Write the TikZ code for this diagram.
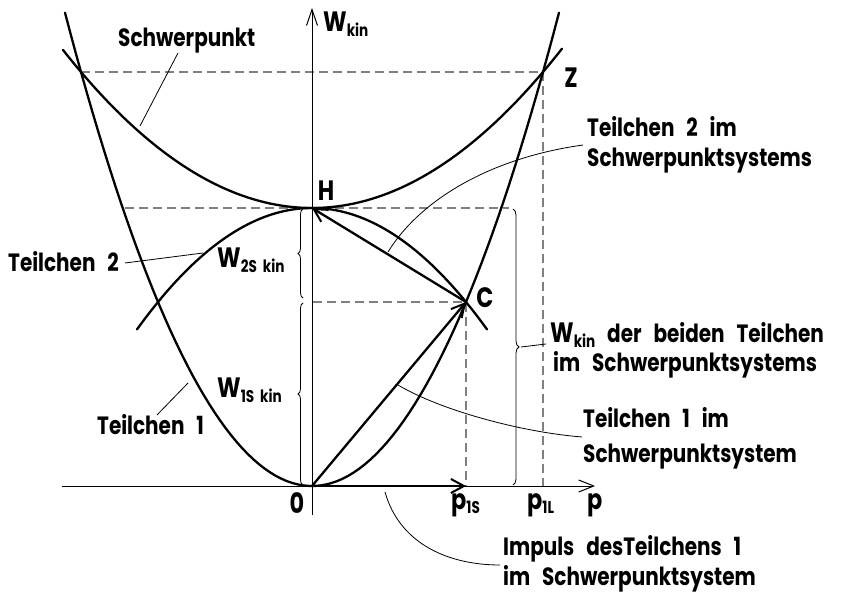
\documentclass[tikz,border=0pt]{standalone}
\usepackage{fontspec}
\setmainfont{Poppins}[FakeStretch=0.8, WordSpace=2.8]
\usetikzlibrary{arrows.meta,decorations.pathreplacing}
\newcommand\lsub[1]{\raisebox{-0.3ex}{\fontsize{17pt}{17pt}\selectfont #1}}
\tikzset{
  thickcurve/.style={line width=2.3pt, line cap=round},
  thinline/.style={line width=0.8pt},
  axisline/.style={line width=1pt},
  dashline/.style={line width=1.2pt, gray, dash pattern=on 9pt off 5pt},
  bigarrow/.style={line width=2.3pt, -{Straight Barb[length=13pt,width=14pt,line width=2pt]}},
  lbl/.style={font=\fontsize{25pt}{25pt}\selectfont\bfseries, inner sep=0pt, anchor=base west},
  big/.style={font=\fontsize{28pt}{28pt}\selectfont\bfseries},
  pt/.style={font=\fontsize{28pt}{28pt}\selectfont\bfseries, inner sep=0pt},
  bracestyle/.style={line width=0.8pt, decorate, decoration={brace, amplitude=5pt}}
}
\begin{document}
\begin{tikzpicture}[x=1pt,y=-1pt]
\useasboundingbox (0,0) rectangle (857,593);
% key points
\coordinate (O) at (312,486);
\coordinate (H) at (312,208);
\coordinate (C) at (466,302);
\coordinate (Z) at (543,72);
\coordinate (ZL) at (81,72);
\coordinate (P1S) at (466,486);
\coordinate (P1L) at (543,486);
% dashed helper lines
\coordinate (HL) at (125,208);
\coordinate (HR) at (509,208);
\coordinate (CL) at (313,302);
\draw[dashline] (ZL) -- (Z) -- (P1L);
\draw[dashline] (HL) -- (HR);
\draw[dashline] (CL) -- (C) -- (P1S);
% axes
\coordinate (xa) at (62,486);
\coordinate (xe) at (595,486);
\coordinate (ya) at (312,515);
\coordinate (ye) at (312,8);
\draw[axisline, -{Straight Barb[length=15pt,width=12pt,line width=1pt]}] (xa) -- (xe);
\draw[axisline, -{Straight Barb[length=16pt,width=11pt,line width=1pt]}] (ya) -- (ye);
% curves
\draw[thickcurve] plot[domain=-247:247, samples=90] ({312+\x},{486-0.7758*(\x/10)*(\x/10)});
\draw[thickcurve] plot[domain=-249:250, samples=90] ({312+\x},{208-0.2549*(\x/10)*(\x/10)});
\draw[thickcurve] plot[domain=-175:175, samples=70] ({312+\x},{208+0.3964*(\x/10)*(\x/10)});
% arrows
\draw[bigarrow] (O) -- (C);
\draw[bigarrow] (C) -- (H);
\draw[bigarrow] (O) -- (P1S);
% braces
\draw[bracestyle] (303,298) -- (303,209);
\draw[bracestyle] (303,485) -- (303,303);
\draw[bracestyle, decoration={amplitude=6pt}] (513,209) -- (513,485);
% point labels
\node[pt] (lH) at (326,191) {H};
\node[pt] (lZ) at (571,78) {Z};
\node[pt] (lC) at (485,298) {C};
\node[pt] (l0) at (297,503) {0};
\node[lbl, big] (lW) at (323,32) {W\lsub{kin}};
\node[lbl, big] (lp1s) at (451,509) {p\lsub{1S}};
\node[lbl, big] (lp1l) at (527,509) {p\lsub{1L}};
\node[lbl, big] (lp) at (587,509) {p};
\node[lbl, big] (lW2) at (217,268) {W\lsub{2S\hspace{6pt}kin}};
\node[lbl, big] (lW1) at (217,398) {W\lsub{1S\hspace{6pt}kin}};
% text labels
\node[lbl] (tS) at (118,47) {Schwerpunkt};
\node[lbl] (tT2) at (8,272) {Teilchen 2};
\node[lbl] (tT1) at (97,435) {Teilchen 1};
\node[lbl] (tT2a) at (587,137) {Teilchen 2 im};
\node[lbl] (tT2b) at (587,167) {Schwerpunktsystems};
\node[lbl] (tWa) at (550,343) {{\fontsize{28pt}{28pt}\selectfont W\lsub{kin}} der beiden Teilchen};
\node[lbl] (tWb) at (553,372) {im Schwerpunktsystems};
\node[lbl] (tT1a) at (583,428) {Teilchen 1 im};
\node[lbl] (tT1b) at (583,462) {Schwerpunktsystem};
\node[lbl] (tIa) at (503,555) {Impuls desTeilchens 1};
\node[lbl] (tIb) at (503,585) {im Schwerpunktsystem};
% leader lines
\coordinate (s1) at (178,53);   \coordinate (s2) at (140,126);
\draw[thinline] (s1) -- (s2);
\coordinate (a1) at (583,145);  \coordinate (a2) at (388,252);
\draw[thinline] (a1) .. controls (490,158) and (420,200) .. (a2);
\coordinate (b1) at (125,263);  \coordinate (b2) at (203,253);
\draw[thinline] (b1) -- (b2);
\coordinate (c1) at (157,415);  \coordinate (c2) at (188,383);
\draw[thinline] (c1) -- (c2);
\coordinate (d1) at (398,385);  \coordinate (d2) at (582,437);
\draw[thinline] (d1) .. controls (440,410) and (520,432) .. (d2);
\coordinate (e1) at (385,492);  \coordinate (e2) at (500,565);
\draw[thinline] (e1) .. controls (400,545) and (450,565) .. (e2);
\coordinate (f1) at (521,347);  \coordinate (f2) at (546,344);
\draw[thinline] (f1) -- (f2);
\end{tikzpicture}
\end{document}
